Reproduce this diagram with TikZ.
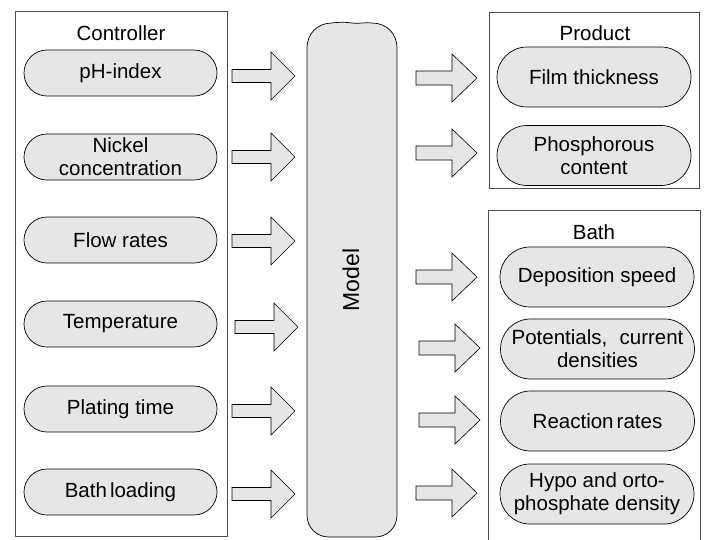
\documentclass[tikz,border=0pt]{standalone}
\usepackage{fontspec}
\setmainfont{Liberation Sans}
\usetikzlibrary{shapes.misc}
\definecolor{pillgray}{HTML}{E6E6E6}
\definecolor{framegray}{HTML}{4D4D4D}
\tikzset{
  frame/.style={draw=framegray, line width=0.8pt},
  pill/.style={rounded rectangle, draw=black, line width=0.7pt, fill=pillgray,
    minimum width=193pt, minimum height=46pt, inner sep=0pt, align=center,
    font=\fontsize{20.5}{23}\selectfont},
  rpill/.style={pill, minimum width=194pt, minimum height=60pt},
  title/.style={font=\fontsize{20.5}{23}\selectfont, inner sep=0pt},
  arrowline/.style={draw=black, line width=0.6pt, fill=pillgray},
  barrowL/.pic={\draw[arrowline] (0,-6.5) -- (39,-6.5) -- (39,-24) -- (63,0) -- (39,24) -- (39,6.5) -- (0,6.5) -- cycle;},
  barrowR/.pic={\draw[arrowline] (0,-7) -- (36,-7) -- (36,-24) -- (61,0) -- (36,24) -- (36,7) -- (0,7) -- cycle;},
}
\begin{document}
\begin{tikzpicture}[x=1pt,y=-1pt]
\useasboundingbox (0,0) rectangle (708,539);
\begin{scope}
\clip (0,0) rectangle (708,539);
% frames
\draw[frame] (15,11) rectangle (227,536);
\draw[frame] (489,12) rectangle (699,188);
\draw[frame] (488,560) -- (488,210) -- (700,210) -- (700,560);
% model
\draw[arrowline, line width=0.7pt] (307,48) .. controls (307,34) and (317,23) .. (332,23)
  .. controls (340,22) and (345,22) .. (352,23)
  .. controls (360,24) and (365,22) .. (372,23)
  .. controls (387,23) and (397,34) .. (397,48) -- (397,515)
  .. controls (397,527) and (388,537) .. (375,537) -- (329,537)
  .. controls (316,537) and (307,527) .. (307,515) -- cycle;
\end{scope}
\node[title, rotate=90, font=\fontsize{23}{26}\selectfont] (model) at (351,280) {Model};
% titles
\node[title] (ctl) at (121,33) {Controller};
\node[title] (prod) at (595,33) {Product};
\node[title] (bath) at (594,232) {Bath};
% left pills
\node[pill] (ph) at (120.5,73) {pH-index};
\node[pill] (ni) at (120.5,157) {Nickel\\concentration};
\node[pill] (fr) at (120.5,240) {Flow rates};
\node[pill] (te) at (120.5,324) {Temperature};
\node[pill] (pt) at (120.5,409) {Plating time};
\node[pill] (bl) at (120.5,492) {Bath\hspace{0.15em}loading};
% right pills
\node[rpill] (ft) at (594,77) {Film thickness};
\node[rpill] (pc) at (594,155.5) {Phosphorous\\content};
\node[rpill] (ds) at (597,277) {Deposition speed};
\node[rpill] (pot) at (597.5,349) {Potentials,\hspace{0.6em}current\\densities};
\node[rpill] (rr) at (597.5,421) {Reaction\hspace{0.15em}rates};
\node[rpill] (hy) at (597,494) {Hypo and orto-\\phosphate density};
% arrows in
\pic at (232,76) {barrowL};
\pic at (232,157) {barrowL};
\pic at (232,241) {barrowL};
\pic at (235,327) {barrowL};
\pic at (232,411) {barrowL};
\pic at (232,494) {barrowL};
% arrows out
\pic at (416,78) {barrowR};
\pic at (416,153) {barrowR};
\pic at (416,277) {barrowR};
\pic at (419,348) {barrowR};
\pic at (419,420) {barrowR};
\pic at (416,493) {barrowR};
\end{tikzpicture}
\end{document}
